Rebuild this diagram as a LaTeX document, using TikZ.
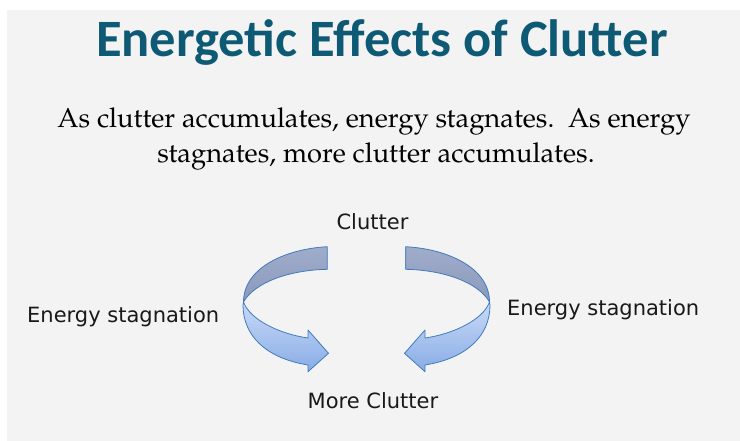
\documentclass[tikz,border=0pt]{standalone}
\usepackage{fontspec}
\newfontfamily\titlefont{Carlito}
\newfontfamily\labelfont{DejaVu Sans}
\newfontfamily\subfont{TeX Gyre Pagella}
\definecolor{panel}{HTML}{F3F3F3}
\definecolor{titleteal}{HTML}{0E5A75}
\definecolor{bandline}{HTML}{3E7CC0}
\definecolor{darkA}{HTML}{A0ACCA}
\definecolor{darkB}{HTML}{8A99BC}
\definecolor{lightA}{HTML}{CADAF7}
\definecolor{lightB}{HTML}{88ACE6}
\tikzset{
  lbl/.style={anchor=base, inner sep=0pt, font=\labelfont\fontsize{21}{25}\selectfont, text=black!90},
  subtxt/.style={anchor=base, inner sep=0pt, font=\subfont\fontsize{27.3}{35}\selectfont, text=black},
  backband/.style={draw=bandline, line width=0.8pt, line join=round, top color=darkA, bottom color=darkB},
  frontband/.style={draw=bandline, line width=0.8pt, line join=round, top color=lightA, bottom color=lightB},
  ribbon/.pic={
    \path[backband] (-39.2,246.7) .. controls (-81.5,249) and (-123,268) .. (-123,302)
      .. controls (-111.5,282) and (-76.5,270) .. (-39.2,269.3) -- cycle;
    \path[frontband] (-123,302) .. controls (-116.5,320) and (-86.5,334) .. (-58.5,338)
      -- (-58.5,330) -- (-38,353.3) -- (-58.5,371.7) -- (-58.5,365)
      .. controls (-101.5,358) and (-123.5,335) .. (-123.5,305) -- cycle;
  }
}
\begin{document}
\begin{tikzpicture}[x=1pt,y=-1pt]
\useasboundingbox (0,0) rectangle (740,441);
\fill[white] (0,0) rectangle (740,441);
\fill[panel] (7,10) rectangle (740,441);
\node[anchor=base, inner sep=0pt, font=\titlefont\bfseries\fontsize{52.5}{60}\selectfont, text=titleteal] (title) at (382,57) {Energetic Effects of Clutter};
\node[subtxt] (sub1) at (374,128) {As clutter accumulates, energy stagnates.\ \ As energy};
\node[subtxt] (sub2) at (376,163) {stagnates, more clutter accumulates.};
\pic (leftarrow) at (366.5,0) {ribbon};
\pic[xscale=-1] (rightarrow) at (366.5,0) {ribbon};
\node[lbl] (clutter) at (372.5,230) {Clutter};
\node[lbl] (more) at (373,408) {More Clutter};
\node[lbl, anchor=base west] (esleft) at (27,323) {Energy stagnation};
\node[lbl, anchor=base west] (esright) at (507,316) {Energy stagnation};
\end{tikzpicture}
\end{document}
